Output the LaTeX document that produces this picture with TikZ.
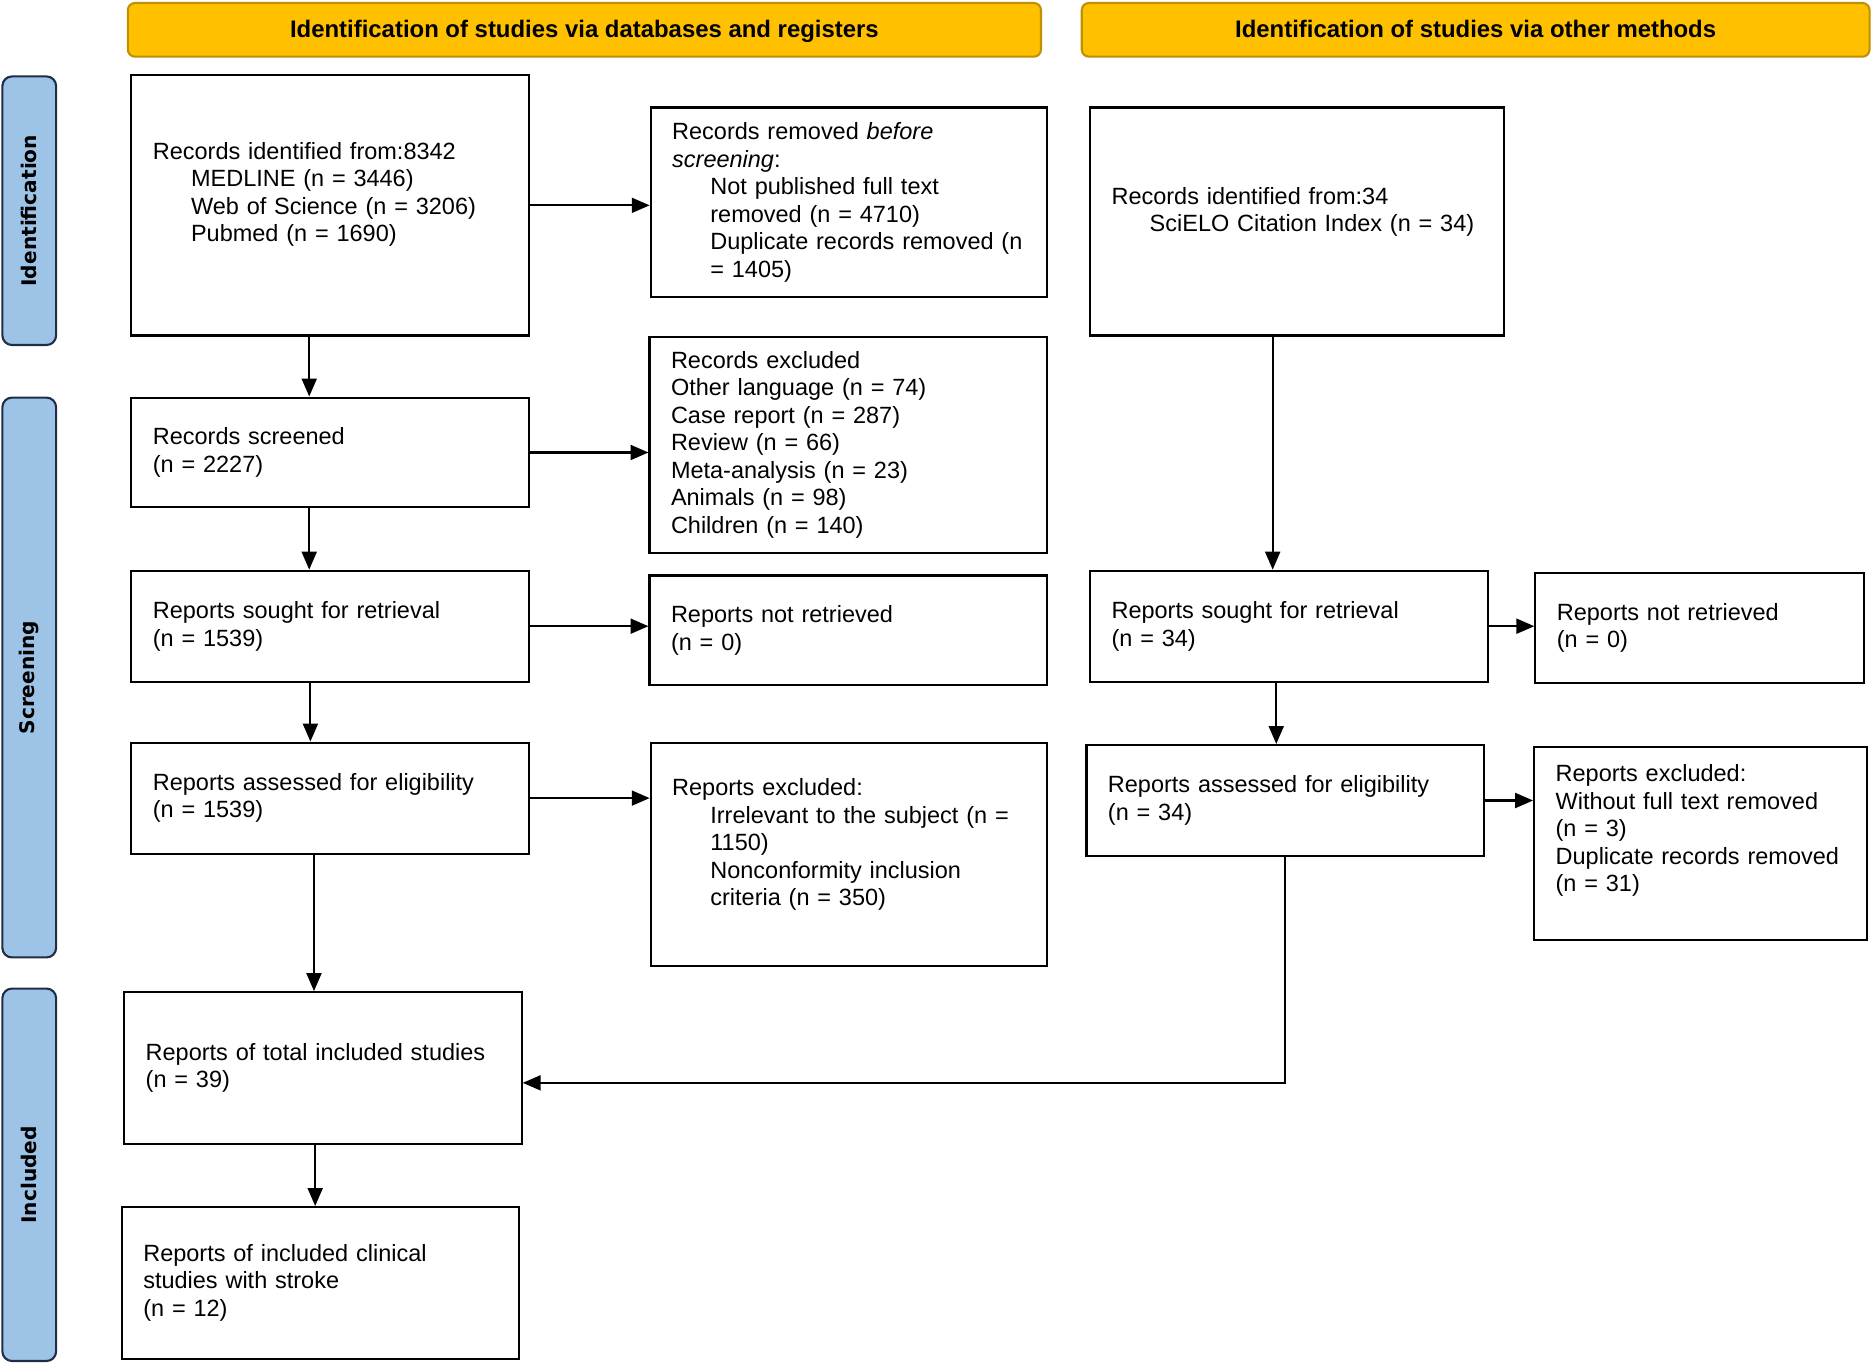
\documentclass[tikz,border=0pt]{standalone}
\usepackage{fontspec}
\setmainfont{Liberation Sans}
\newfontfamily\phasefont{DejaVu Sans}
\usetikzlibrary{positioning,arrows.meta}
\definecolor{headgold}{RGB}{255,192,0}
\definecolor{headedge}{RGB}{191,144,0}
\definecolor{phaseblue}{RGB}{157,195,230}
\definecolor{phaseedge}{RGB}{31,45,70}
\newcommand{\boxfont}{\fontsize{11.2}{13.1}\selectfont}
\newcommand{\ind}{\hspace*{0.64cm}}

\begin{document}
\begin{tikzpicture}[x=0.02cm, y=-0.02cm, >={Triangle[length=0.3cm,width=0.25cm]},
    heading/.style={draw=headedge, fill=headgold, rounded corners=0.12cm, line width=1pt,
        minimum height=0.9cm, text height=0.9em, text depth=0.2em,
        font=\fontsize{11.4}{13.4}\selectfont\bfseries},
    phase/.style={draw=phaseedge, fill=phaseblue, rounded corners=0.16cm, line width=1pt,
        rotate=90, minimum height=0.9cm, font=\phasefont\fontsize{9.6}{12}\selectfont\bfseries},
    box/.style 2 args={draw, line width=1pt, text width=#1, minimum height=#2,
        inner xsep=0.36cm, align=left, font=\boxfont},
    lift/.style={text depth=#1},
    link/.style={->, line width=1pt}]

    \useasboundingbox (0,0) rectangle (1568,1142);

    % headings
    \foreach \l/\x/\w [count=\i] in {{Identification of studies via databases and registers}/489.5/15.3cm,
                                     {Identification of studies via other methods}/1236/13.2cm}
        \node [heading, minimum width=\w] (head-\i) at (\x,25) {\l};

    % phases
    \foreach \l/\y/\h in {Identification/176.5/4.5cm, Screening/567.5/9.38cm, Included/984/6.24cm}
        \node [phase, minimum width=\h] (phase-\l) at (24.5,\y) {\l};

    % databases and registers
    \node [box={5.94cm}{4.36cm}, lift=52pt] (idL) at (276.5,172)
        {Records identified from:8342\\
         \ind MEDLINE (n = 3446)\\
         \ind Web of Science (n = 3206)\\
         \ind Pubmed (n = 1690)};
    \node [box={5.92cm}{3.18cm}] (remL) at (711,169.5)
        {Records removed \textit{before}\\
         \textit{screening}:\\
         \ind Not published full text\\
         \ind removed (n = 4710)\\
         \ind Duplicate records removed (n\\
         \ind = 1405)};
    \node [box={5.94cm}{1.84cm}] (scrL) at (276.5,379)
        {Records screened\\(n = 2227)};
    \node [box={5.94cm}{3.62cm}] (exclL) at (710.5,372.5)
        {Records excluded\\
         Other language (n = 74)\\
         Case report (n = 287)\\
         Review (n = 66)\\
         Meta-analysis (n = 23)\\
         Animals (n = 98)\\
         Children (n = 140)};
    \node [box={5.94cm}{1.86cm}] (soughtL) at (276.5,524.5)
        {Reports sought for retrieval\\(n = 1539)};
    \node [box={5.94cm}{1.84cm}] (notretL) at (710.5,528)
        {Reports not retrieved\\(n = 0)};
    \node [box={5.94cm}{1.86cm}] (assessL) at (276.5,668.5)
        {Reports assessed for eligibility\\(n = 1539)};
    \node [box={5.92cm}{3.74cm}, lift=64pt] (exclL2) at (711,715.5)
        {Reports excluded:\\
         \ind Irrelevant to the subject (n =\\
         \ind 1150)\\
         \ind Nonconformity inclusion\\
         \ind criteria (n = 350)};
    \node [box={5.94cm}{2.54cm}] (totalL) at (270.5,894.5)
        {Reports of total included studies\\(n = 39)};
    \node [box={5.94cm}{2.54cm}] (strokeL) at (268.5,1074.5)
        {Reports of included clinical\\studies with stroke\\(n = 12)};

    % other methods
    \node [box={6.22cm}{3.82cm}, lift=24.5pt] (idR) at (1086.5,185.5)
        {Records identified from:34\\
         \ind SciELO Citation Index (n = 34)};
    \node [box={5.94cm}{1.86cm}] (soughtR) at (1079.5,524.5)
        {Reports sought for retrieval\\(n = 34)};
    \node [box={4.78cm}{1.84cm}] (notretR) at (1423.5,526)
        {Reports not retrieved\\(n = 0)};
    \node [box={5.94cm}{1.86cm}] (assessR) at (1076.5,670.5)
        {Reports assessed for eligibility\\(n = 34)};
    \node [box={4.86cm}{3.22cm}, lift=67pt] (exclR) at (1424.5,706.5)
        {Reports excluded:\\
         Without full text removed\\
         (n = 3)\\
         Duplicate records removed\\
         (n = 31)};

    % lines down the left column
    \draw [link] ([xshift=-0.35cm]idL.south) -- ([xshift=-0.35cm]idL.south |- scrL.north);
    \draw [link] ([xshift=-0.35cm]scrL.south) -- ([xshift=-0.35cm]scrL.south |- soughtL.north);
    \draw [link] ([xshift=-0.33cm]soughtL.south) -- ([xshift=-0.33cm]soughtL.south |- assessL.north);
    \draw [link] ([xshift=-0.27cm]assessL.south) -- ([xshift=-0.27cm]assessL.south |- totalL.north);
    \draw [link] ([xshift=-0.13cm]totalL.south) -- ([xshift=-0.13cm]totalL.south |- strokeL.north);

    % lines to the exclusions
    \draw [link] (idL.east) -- (idL.east -| remL.west);
    \draw [link] (scrL.east) -- (scrL.east -| exclL.west);
    \draw [link] (soughtL.east) -- (soughtL.east -| notretL.west);
    \draw [link] (assessL.east) -- (assessL.east -| exclL2.west);

    % lines down the right column
    \draw [link] ([xshift=-0.41cm]idR.south) -- ([xshift=-0.41cm]idR.south |- soughtR.north);
    \draw [link] ([xshift=-0.21cm]soughtR.south) -- ([xshift=-0.21cm]soughtR.south |- assessR.north);
    \draw [link] (soughtR.east) -- (soughtR.east -| notretR.west);
    \draw [link] (assessR.east) -- (assessR.east -| exclR.west);
    \draw [link] (assessR.south) |- ([yshift=-0.25cm]totalL.east);

\end{tikzpicture}
\end{document}
